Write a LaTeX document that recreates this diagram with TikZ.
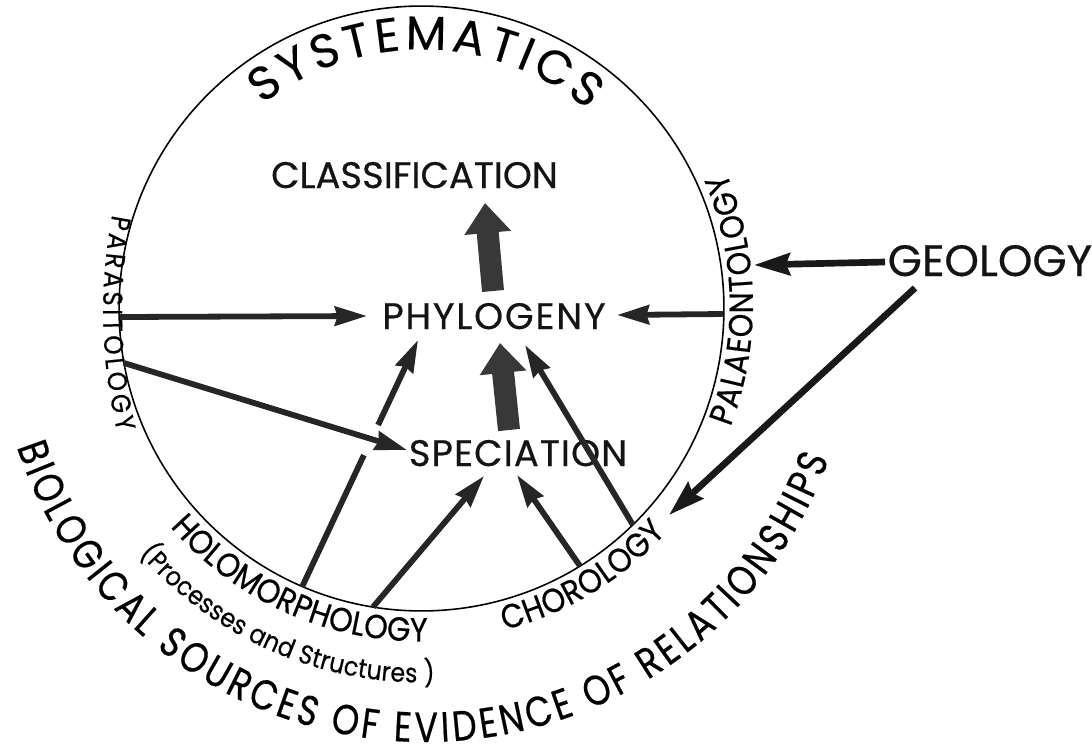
\documentclass[tikz,border=0pt]{standalone}
\usepackage{fontspec}
\setmainfont{Poppins}[FakeBold=0.5]
\newfontfamily\plainfam{Poppins}[FakeBold=0.2]
\newfontfamily\sidefam{Poppins}[FakeStretch=0.9,FakeBold=0.5]
\newfontfamily\bottomfam{Poppins}[FakeStretch=0.82,FakeBold=0.5]
\usetikzlibrary{arrows.meta,decorations.text,calc}
\newcommand\fLbl{\fontsize{21}{21}\selectfont}
\newcommand\fGeo{\fontsize{25}{25}\selectfont}
\newcommand\fSys{\plainfam\fontsize{27}{27}\selectfont}
\newcommand\fPara{\sidefam\fontsize{15.5}{15.5}\selectfont}
\newcommand\fSide{\sidefam\fontsize{19}{19}\selectfont}
\newcommand\fSub{\sidefam\fontsize{15}{15}\selectfont}
\newcommand\fBio{\bottomfam\fontsize{24}{24}\selectfont}
\begin{document}
\begin{tikzpicture}[x=0.02cm,y=0.02cm,
  lbl/.style={anchor=base,inner sep=0pt,text=black!92},
  thinarrow/.style={line width=3.3pt,draw=black!85,fill=black!85,
    -{Stealth[length=0.64cm,width=0.38cm,inset=0.05cm]}},
  thinline/.style={line width=3.3pt,draw=black!85},
  geoarrow/.style={line width=3.8pt,draw=black!90,fill=black!90,
    -{Stealth[length=0.72cm,width=0.44cm,inset=0.08cm]}},
  bigarrow/.style={line width=0.44cm,draw=black!78,fill=black!78,
    -{Triangle[length=0.6cm,width=0.9cm]}},
  curved/.style={decorate}]
\useasboundingbox (0,0) rectangle (1092,-751);
\coordinate (C) at (421.5,-308.5);
\coordinate (Cb) at (425,-312);
\coordinate (Cpara) at (622,-312);
\coordinate (Cpal) at (413,-305);
% main circle
\draw[line width=0.9pt] (C) circle[radius=6.05cm];

% labels
\node[lbl,font=\fLbl] (classification) at (414.5,-188) {CLASSIFICATION};
\node[lbl,font=\fLbl] (phylogeny) at (494,-329) {\addfontfeatures{LetterSpace=5}PHYLOGENY};
\node[lbl,font=\fLbl] (speciation) at (518,-466) {\addfontfeatures{LetterSpace=3}SPECIATION};
\node[lbl,font=\fGeo] (geology) at (990,-276) {GEOLOGY};

% curved texts
\path[curved,decoration={text along path,text align={fit to path},
  text={|\fSys|SYSTEMATICS}}]
  ([shift={(C)}]128:5.18cm) arc[start angle=128,end angle=50,radius=5.18cm];
\path[curved,decoration={text along path,text align={fit to path},
  text={|\fPara|PARASITOLOGY}}]
  ([shift={(Cpara)}]169.2:10.38cm) arc[start angle=169.2,end angle=193.4,radius=10.38cm];
\path[curved,decoration={text along path,text align={fit to path},
  text={|\fSide|PALAEONTOLOGY}}]
  ([shift={(Cpal)}]-21:6.8cm) arc[start angle=-21,end angle=23,radius=6.8cm];
\path[curved,decoration={text along path,text align={fit to path},
  text={|\fSide|HOLOMORPHOLOGY}}]
  ([shift={(C)}]221:6.66cm) arc[start angle=221,end angle=271,radius=6.66cm];
\path[curved,decoration={text along path,text align={fit to path},
  text={|\fSub|(Processes and Structures )}}]
  ([shift={(C)}]221:7.48cm) arc[start angle=221,end angle=272,radius=7.48cm];
\path[curved,decoration={text along path,text align={fit to path},
  text={|\fSide|CHOROLOGY}}]
  ([shift={(C)}]284.5:6.64cm) arc[start angle=284.5,end angle=317.5,radius=6.64cm];
\path[curved,decoration={text along path,text align={fit to path},
  text={|\fBio|BIOLOGICAL SOURCES OF EVIDENCE OF RELATIONSHIPS}}]
  ([shift={(Cb)}]198.3:8.6cm) arc[start angle=198.3,end angle=340,radius=8.6cm];

% connector end points
\coordinate (paraA) at (120,-317);
\coordinate (paraB) at (124,-363);
\coordinate (palaeo) at (723,-314);
\coordinate (palaeoTip) at (754,-265);
\coordinate (holoA) at (302,-587);
\coordinate (holoB) at (373,-607);
\coordinate (choroA) at (580,-566);
\coordinate (choroB) at (633,-525);
\coordinate (choroTip) at (669,-515);
\coordinate (geoA) at (885,-262);
\coordinate (geoB) at (915,-288);
\coordinate (phyL) at (367,-316);
\coordinate (phyR) at (617,-315);
\coordinate (phyBL) at (418,-340);
\coordinate (phyBR) at (525,-345);
\coordinate (phyB) at (500,-343);
\coordinate (phyTop) at (493,-291);
\coordinate (claB) at (485,-203);
\coordinate (speL) at (407,-450);
\coordinate (speBL) at (484,-476);
\coordinate (speBR) at (517,-475);
\coordinate (speTop) at (509,-430);
\coordinate (gapLow) at (363.9,-455.1);
\coordinate (gapHigh) at (378.1,-425);

% big arrows
\draw[bigarrow] (phyTop) -- (claB);
\draw[bigarrow] (speTop) -- (phyB);

% thin arrows
\draw[thinarrow] (paraA) -- (phyL);
\draw[thinarrow] (paraB) -- (speL);
\draw[thinarrow] (palaeo) -- (phyR);
\draw[thinline] (holoA) -- (gapLow);
\draw[thinarrow] (gapHigh) -- (phyBL);
\draw[thinarrow] (holoB) -- (speBL);
\draw[thinarrow] (choroA) -- (speBR);
\draw[thinarrow] (choroB) -- (phyBR);

% geology arrows
\draw[geoarrow] (geoA) -- (palaeoTip);
\draw[geoarrow] (geoB) -- (choroTip);
\end{tikzpicture}
\end{document}
